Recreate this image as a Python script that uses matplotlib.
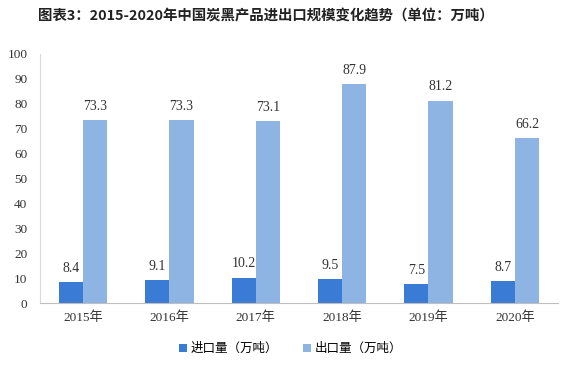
import numpy as np
import matplotlib
matplotlib.use('Agg')
import matplotlib.pyplot as plt

plt.rcParams['font.family'] = ['Liberation Serif', 'Noto Sans CJK SC', 'DejaVu Sans']

years = ['2015年', '2016年', '2017年', '2018年', '2019年', '2020年']
imports = [8.4, 9.1, 10.2, 9.5, 7.5, 8.7]
exports = [73.3, 73.3, 73.1, 87.9, 81.2, 66.2]

c_imp = '#3a7bd5'
c_exp = '#8eb4e3'

fig = plt.figure(figsize=(5.7, 3.67), dpi=100)
ax = fig.add_axes([0.070, 0.174, 0.909, 0.679])

x = np.arange(len(years))
w = 0.28
b1 = ax.bar(x - w/2, imports, w, color=c_imp, label='进口量（万吨）')
b2 = ax.bar(x + w/2, exports, w, color=c_exp, label='出口量（万吨）')

# 数据标签
for xi, v in zip(x - w/2, imports):
    ax.text(xi, v + 3, '%.1f' % v, ha='center', va='bottom', fontsize=10, color='#333333')
for xi, v in zip(x + w/2, exports):
    ax.text(xi, v + 3, '%.1f' % v, ha='center', va='bottom', fontsize=10, color='#333333')

ax.set_xlim(-0.5, len(years) - 0.5)
ax.set_ylim(0, 100)
ax.set_yticks(range(0, 101, 10))
ax.set_xticks(x)
ax.set_xticklabels(years)
ax.tick_params(axis='both', length=0, labelsize=9.5, colors='#333333')
ax.tick_params(axis='y', pad=9)
ax.tick_params(axis='x', pad=6)

for s in ['top', 'right']:
    ax.spines[s].set_visible(False)
ax.spines['left'].set_color('#d9d9d9')
ax.spines['bottom'].set_color('#bfbfbf')

fig.text(0.066, 0.955, '图表3：2015-2020年中国炭黑产品进出口规模变化趋势（单位：万吨）',
         fontsize=10.4, fontweight='bold', family=['Noto Sans CJK SC', 'DejaVu Sans'],
         ha='left', va='center', color='#222222')

fig.legend(handles=[b1, b2], loc='center', bbox_to_anchor=(0.51, 0.05), ncol=2,
           frameon=False, handlelength=0.6, handleheight=0.6,
           columnspacing=2.0, handletextpad=0.3,
           prop={'family': ['Noto Sans CJK SC', 'DejaVu Sans'], 'size': 9})

fig.savefig('out.png', dpi=100)
